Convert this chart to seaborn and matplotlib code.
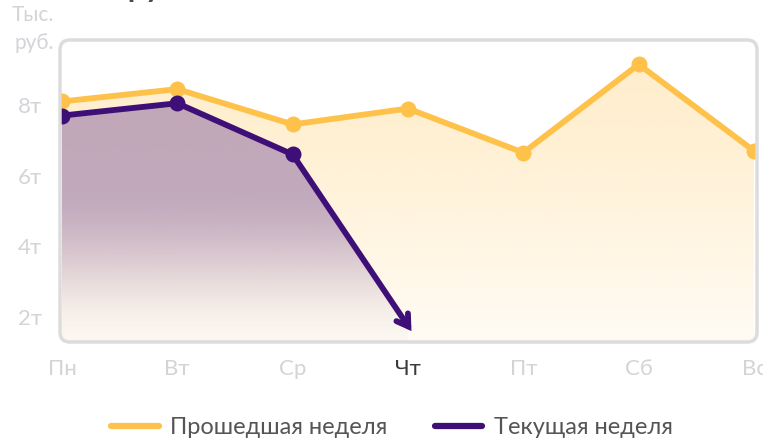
import numpy as np
import matplotlib
matplotlib.use("Agg")
import matplotlib.pyplot as plt
import seaborn as sns
import pandas as pd
from matplotlib.patches import FancyBboxPatch
from matplotlib.lines import Line2D

days = ["Пн", "Вт", "Ср", "Чт", "Пт", "Сб", "Вс"]
last_week = [8.1, 8.45, 7.45, 7.9, 6.65, 9.15, 6.7]
this_week = [7.7, 8.05, 6.6]
this_week_end = 1.6  # где стрелка упирается в четверг
today = "Чт"

ORANGE = "#fec24a"
PURPLE = "#3f0f78"
GREY = "#d4d4d8"

sns.set_style("white")
plt.rcParams["font.family"] = ["Lato", "DejaVu Sans"]

fig = plt.figure(figsize=(7.63, 4.46), dpi=100)
W, H = 763, 446
left, right, top, bottom = 60, 757, 40, 342
ax = fig.add_axes([left / W, 1 - bottom / H, (right - left) / W, (bottom - top) / H])

x_lo, x_hi = -0.017, 6.026
y_lo, y_hi = 1.29, 9.84
ax.set_xlim(x_lo, x_hi)
ax.set_ylim(y_lo, y_hi)

df_last = pd.DataFrame({"x": range(len(days)), "y": last_week})
df_cur = pd.DataFrame({"x": range(len(this_week)), "y": this_week})


def gradient_fill(xs, ys, rgb, alpha_fn, z):
    poly = ax.fill_between(xs, ys, y_lo, color="none", lw=0)
    n = 256
    t = np.linspace(0, 1, n)[:, None]  # 0 top -> 1 bottom
    img = np.zeros((n, 1, 4))
    img[..., :3] = matplotlib.colors.to_rgb(rgb)
    img[..., 3] = alpha_fn(t)
    im = ax.imshow(img, aspect="auto", extent=[min(xs), max(xs), y_lo, max(ys)],
                   origin="upper", zorder=z)
    im.set_clip_path(poly.get_paths()[0], transform=ax.transData)


def fade(t, start=0.35):
    s = np.clip((t - start) / (1 - start), 0, 1)
    return 1 - s * s * (3 - 2 * s)


# заливки
gradient_fill(list(range(len(days))), last_week, "#ffd27a",
              lambda t: 0.38 - 0.3 * t ** 1.3, 1)
cur_x = list(range(len(this_week))) + [3]
cur_y = this_week + [this_week_end]
gradient_fill(cur_x, cur_y, "#8a68a2",
              lambda t: 0.5 * fade(t) + 0.03, 2)

# линии
sns.lineplot(data=df_last, x="x", y="y", ax=ax, color=ORANGE, lw=4.2,
             marker="o", markersize=11.5, markeredgewidth=0, zorder=4)
sns.lineplot(data=df_cur, x="x", y="y", ax=ax, color=PURPLE, lw=4.2,
             marker="o", markersize=11.5, markeredgewidth=0, zorder=5)
ax.annotate("", xy=(3.03, this_week_end), xytext=(len(this_week) - 1, this_week[-1]),
            arrowprops=dict(arrowstyle="->,head_length=0.8,head_width=0.5",
                            color=PURPLE, lw=4.2, shrinkA=0, shrinkB=0,
                            joinstyle="miter"), zorder=6)

# рамка
for s in ax.spines.values():
    s.set_visible(False)
box = FancyBboxPatch((0, 0), 1, 1, boxstyle="round,pad=0,rounding_size=0.014",
                     mutation_aspect=(right - left) / (bottom - top),
                     transform=ax.transAxes, fill=False, ec="#dcdcdc", lw=2.5,
                     zorder=7, clip_on=False)
ax.add_patch(box)

ax.set_xticks(range(len(days)))
ax.set_xticklabels(days)
ax.set_yticks([2, 4, 6, 8])
ax.set_yticklabels(["2т", "4т", "6т", "8т"])
ax.tick_params(axis="x", length=0, pad=12, labelsize=16, labelcolor=GREY)
ax.tick_params(axis="y", length=0, pad=13, labelsize=16, labelcolor=GREY)
for lab in ax.get_xticklabels():
    if lab.get_text() == today:
        lab.set_color("#3a3a3a")
ax.set_xlabel("")
ax.set_ylabel("")
ax.grid(False)

fig.text(54 / W, 1 - 29 / H, "Тыс.\nруб.", ha="right", va="center",
         fontsize=15, color=GREY, linespacing=1.45)
fig.text(85 / W, 1 + 2.5 / H, "Выручка", ha="left", va="baseline",
         fontsize=22, fontweight="bold", color="#4a4a4a")

handles = [Line2D([], [], color=ORANGE, lw=4.5),
           Line2D([], [], color=PURPLE, lw=4.5)]
fig.legend(handles, ["Прошедшая неделя", "Текущая неделя"], loc="center",
           bbox_to_anchor=(392 / W, 1 - 428 / H), ncol=2, frameon=False,
           fontsize=17, handlelength=2.0, columnspacing=2.0, handletextpad=0.5,
           labelcolor="#555555")

fig.savefig("out.png", dpi=100)
